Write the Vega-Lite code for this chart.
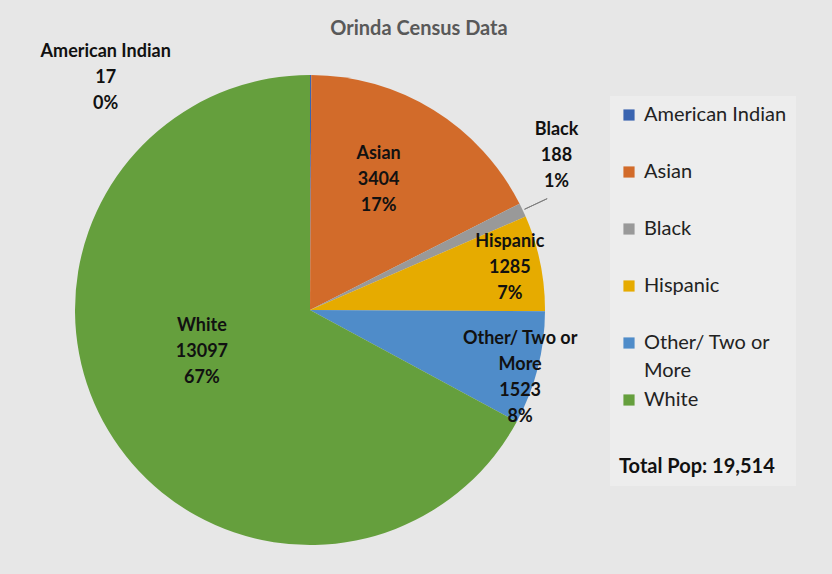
{
  "$schema": "https://vega.github.io/schema/vega-lite/v6.json",
  "width": 620,
  "height": 520,
  "autosize": {"type": "none"},
  "padding": {"left": 0, "right": 212, "top": 50, "bottom": 4},
  "background": "#e7e7e7",
  "title": {
    "text": "Orinda Census Data",
    "font": "Lato",
    "fontSize": 20,
    "fontWeight": "bold",
    "color": "#595959",
    "dx": 109,
    "offset": 4
  },
  "data": {
    "values": [
      {"category": "American Indian", "value": 17, "label": "American Indian\n17\n0%"},
      {"category": "Asian", "value": 3404, "label": "Asian\n3404\n17%"},
      {"category": "Black", "value": 188, "label": "Black\n188\n1%"},
      {"category": "Hispanic", "value": 1285, "label": "Hispanic\n1285\n7%"},
      {"category": "Other/ Two or More", "value": 1523, "label": "Other/ Two or\nMore\n1523\n8%"},
      {"category": "White", "value": 13097, "label": "White\n13097\n67%"}
    ]
  },
  "config": {
    "view": {"stroke": null},
    "style": {"guide-label": {"lineHeight": 28}}
  },
  "layer": [
    {
      "mark": {"type": "arc", "outerRadius": 235, "stroke": null},
      "encoding": {
        "theta": {"field": "value", "type": "quantitative", "stack": true},
        "color": {
          "field": "category",
          "type": "nominal",
          "scale": {
            "domain": ["American Indian", "Asian", "Black", "Hispanic", "Other/ Two or More", "White"],
            "range": ["#3a64b0", "#d26b2a", "#999999", "#e6ab00", "#4f8cc9", "#659f3d"]
          },
          "legend": {
            "orient": "none",
            "legendX": 610,
            "legendY": 46,
            "title": "Total Pop: 19,514",
            "titleOrient": "bottom",
            "titleFont": "Lato",
            "titleFontSize": 20,
            "titleFontWeight": "bold",
            "titleColor": "#111111",
            "titlePadding": 47,
            "symbolType": "square",
            "symbolSize": 125,
            "symbolStrokeWidth": 0,
            "labelFont": "Lato",
            "labelFontSize": 20,
            "labelColor": "#222222",
            "labelLimit": 300,
            "labelOffset": 5,
            "gridAlign": "all",
            "rowPadding": 9,
            "fillColor": "#ededed",
            "padding": 9,
            "labelExpr": "datum.label === 'Other/ Two or More' ? ['Other/ Two or', 'More'] : datum.label"
          }
        }
      }
    },
    {
      "transform": [
        {"stack": "value", "groupby": [], "sort": [{"field": "category", "order": "ascending"}], "as": ["s0", "s1"]},
        {"filter": "datum.category === 'Black'"}
      ],
      "mark": {"type": "arc", "radius": 237, "radius2": 262, "thetaOffset": 0.0303, "theta2Offset": 0.0303, "fill": null, "stroke": "#7f7f7f", "strokeWidth": 1},
      "encoding": {
        "theta": {"field": "s0", "type": "quantitative", "stack": null},
        "theta2": {"field": "s0"}
      }
    },
    {
      "mark": {"type": "text", "radius": 140, "dx": -5, "dy": -37, "font": "Lato", "fontSize": 18, "fontWeight": "bold", "lineBreak": "\n", "lineHeight": 26, "fill": "#111111", "baseline": "middle", "align": "center"},
      "encoding": {
        "theta": {"field": "value", "type": "quantitative", "stack": true},
        "detail": {"field": "category", "type": "nominal"},
        "text": {"condition": {"test": "datum.category === 'Asian'", "field": "label"}, "value": ""}
      }
    },
    {
      "mark": {"type": "text", "radius": 204, "dy": -27, "font": "Lato", "fontSize": 18, "fontWeight": "bold", "lineBreak": "\n", "lineHeight": 26, "fill": "#111111", "baseline": "middle", "align": "center"},
      "encoding": {
        "theta": {"field": "value", "type": "quantitative", "stack": true},
        "detail": {"field": "category", "type": "nominal"},
        "text": {"condition": {"test": "datum.category === 'Hispanic'", "field": "label"}, "value": ""}
      }
    },
    {
      "mark": {"type": "text", "radius": 220, "dx": -3, "dy": -25, "font": "Lato", "fontSize": 18, "fontWeight": "bold", "lineBreak": "\n", "lineHeight": 26, "fill": "#111111", "baseline": "middle", "align": "center"},
      "encoding": {
        "theta": {"field": "value", "type": "quantitative", "stack": true},
        "detail": {"field": "category", "type": "nominal"},
        "text": {"condition": {"test": "datum.category === 'Other/ Two or More'", "field": "label"}, "value": ""}
      }
    },
    {
      "mark": {"type": "text", "radius": 120, "dx": -5, "dy": -45, "font": "Lato", "fontSize": 18, "fontWeight": "bold", "lineBreak": "\n", "lineHeight": 26, "fill": "#111111", "baseline": "middle", "align": "center"},
      "encoding": {
        "theta": {"field": "value", "type": "quantitative", "stack": true},
        "detail": {"field": "category", "type": "nominal"},
        "text": {"condition": {"test": "datum.category === 'White'", "field": "label"}, "value": ""}
      }
    },
    {
      "mark": {"type": "text", "radius": 100, "dx": 156, "dy": -137, "font": "Lato", "fontSize": 18, "fontWeight": "bold", "lineBreak": "\n", "lineHeight": 26, "fill": "#111111", "baseline": "middle", "align": "center"},
      "encoding": {
        "theta": {"field": "value", "type": "quantitative", "stack": true},
        "detail": {"field": "category", "type": "nominal"},
        "text": {"condition": {"test": "datum.category === 'Black'", "field": "label"}, "value": ""}
      }
    },
    {
      "mark": {"type": "text", "radius": 250, "dx": -205, "dy": -8, "font": "Lato", "fontSize": 18, "fontWeight": "bold", "lineBreak": "\n", "lineHeight": 26, "fill": "#111111", "baseline": "middle", "align": "center"},
      "encoding": {
        "theta": {"field": "value", "type": "quantitative", "stack": true},
        "detail": {"field": "category", "type": "nominal"},
        "text": {"condition": {"test": "datum.category === 'American Indian'", "field": "label"}, "value": ""}
      }
    }
  ]
}
